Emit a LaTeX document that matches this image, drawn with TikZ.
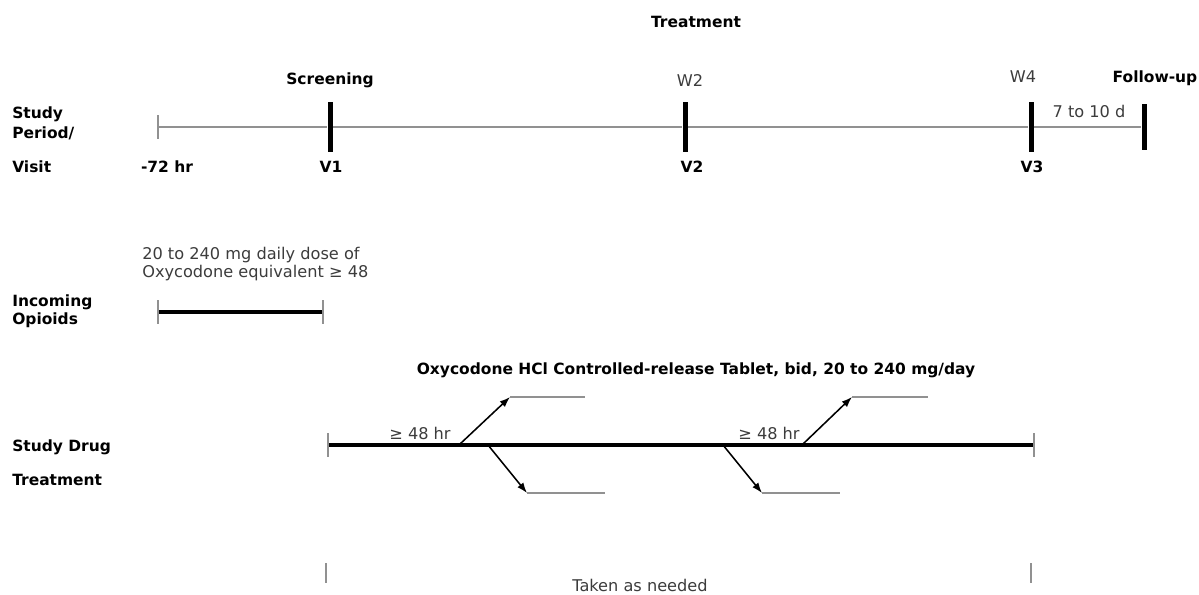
\documentclass[tikz,border=0pt]{standalone}
\usepackage{fontspec}
\setmainfont{DejaVu Sans}
\usepackage{tikz}
\usetikzlibrary{arrows.meta}
\definecolor{notegray}{RGB}{60,60,60}
\definecolor{linegray}{RGB}{145,145,145}
\tikzstyle{rowlabel} = [font=\fontsize{11}{14}\selectfont\bfseries, anchor=west, align=left, inner sep=0pt]
\tikzstyle{marklabel} = [font=\fontsize{11}{14}\selectfont\bfseries, inner sep=0pt]
\tikzstyle{note} = [font=\fontsize{11.5}{13}\selectfont, text=notegray, inner sep=0pt]
\tikzstyle{visittick} = [rectangle, fill=black, minimum width=0.125cm, minimum height=1.225cm, inner sep=0pt]
\tikzstyle{endtick} = [rectangle, fill=linegray, minimum width=0.04cm, minimum height=0.6cm, inner sep=0pt]
\tikzstyle{timeline} = [draw=linegray, line width=1.3pt]
\tikzstyle{drugline} = [line width=2.6pt]
\tikzstyle{arrow} = [line width=1.1pt, -{Latex[length=2.6mm, width=1.9mm]}]
\tikzstyle{level} = [draw=linegray, line width=1.3pt]

\begin{document}
\begin{tikzpicture}[x=0.025cm, y=-0.025cm]
\useasboundingbox (0,0) rectangle (1199,594);

% row labels
\node(StudyPeriod) [rowlabel] at (12,123) {Study\\Period/};
\node(VisitRow)    [rowlabel] at (12,167) {Visit};
\node(Incoming)    [rowlabel, font=\fontsize{11}{12.5}\selectfont\bfseries] at (12,311) {Incoming\\Opioids};
\node(StudyDrug)   [rowlabel] at (12,447) {Study Drug};
\node(DrugTreat)   [rowlabel] at (12,480) {Treatment};

% study period / visits
\node(Treatmenthead) [marklabel] at (696,22) {Treatment};
\node(Screening)     [marklabel] at (330,80) {Screening};
\node(FollowUp)      [marklabel] at (1155,78) {Follow-up};
\node(Wk2)  [note] at (690,80) {W2};
\node(Wk4)  [note] at (1023,77) {W4};
\node(Gap)  [note] at (1089,111) {7 to 10 d};

\node(PreTick) [endtick] at (158,127) {};
\node(V1tick)  [visittick] at (330,127) {};
\node(V2tick)  [visittick] at (685,127) {};
\node(V3tick)  [visittick] at (1031,127) {};
\node(FUtick)  [visittick, minimum height=1.15cm] at (1144,127) {};
\draw [timeline] (PreTick) -- (V1tick) -- (V2tick) -- (V3tick) -- (FUtick);

\node(PreVisit) [marklabel] at (167,167) {-72 hr};
\node(V1) [marklabel] at (331,167) {V1};
\node(V2) [marklabel] at (692,167) {V2};
\node(V3) [marklabel] at (1032,167) {V3};

% incoming opioids
\node(OpioidDose) [note, anchor=west, align=left] at (142,264) {20 to 240 mg daily dose of\\Oxycodone equivalent ≥ 48};
\node(OpStart) [endtick] at (158,312) {};
\node(OpEnd)   [endtick] at (323,312) {};
\draw [drugline] (OpStart) -- (OpEnd);

% study drug treatment
\node(DrugTitle) [marklabel] at (696,370) {Oxycodone HCl Controlled-release Tablet, bid, 20 to 240 mg/day};
\node(DrugStart) [endtick] at (328,445) {};
\node(DrugEnd)   [endtick] at (1034,445) {};
\draw [drugline] (DrugStart) -- (DrugEnd);

\node(Wait1) [note] at (420,433) {≥ 48 hr};
\node(Wait2) [note] at (769,433) {≥ 48 hr};

\coordinate (Up1) at (460,444);
\coordinate (Up1tip) at (510,397);
\coordinate (Up1end) at (585,397);
\coordinate (Down1) at (488,445);
\coordinate (Down1tip) at (527,493);
\coordinate (Down1end) at (605,493);
\coordinate (Down2) at (723,445);
\coordinate (Down2tip) at (762,493);
\coordinate (Down2end) at (840,493);
\coordinate (Up2) at (803,444);
\coordinate (Up2tip) at (852,397);
\coordinate (Up2end) at (928,397);

\draw [arrow] (Up1) -- (Up1tip);
\draw [level] (Up1tip) -- (Up1end);
\draw [arrow] (Down1) -- (Down1tip);
\draw [level] (Down1tip) -- (Down1end);
\draw [arrow] (Down2) -- (Down2tip);
\draw [level] (Down2tip) -- (Down2end);
\draw [arrow] (Up2) -- (Up2tip);
\draw [level] (Up2tip) -- (Up2end);

% rescue medication
\node(NeedStart) [endtick, minimum height=0.5cm] at (326,573) {};
\node(NeedEnd)   [endtick, minimum height=0.5cm] at (1031,573) {};
\node(AsNeeded)  [note] at (640,585) {Taken as needed};

\end{tikzpicture}
\end{document}
